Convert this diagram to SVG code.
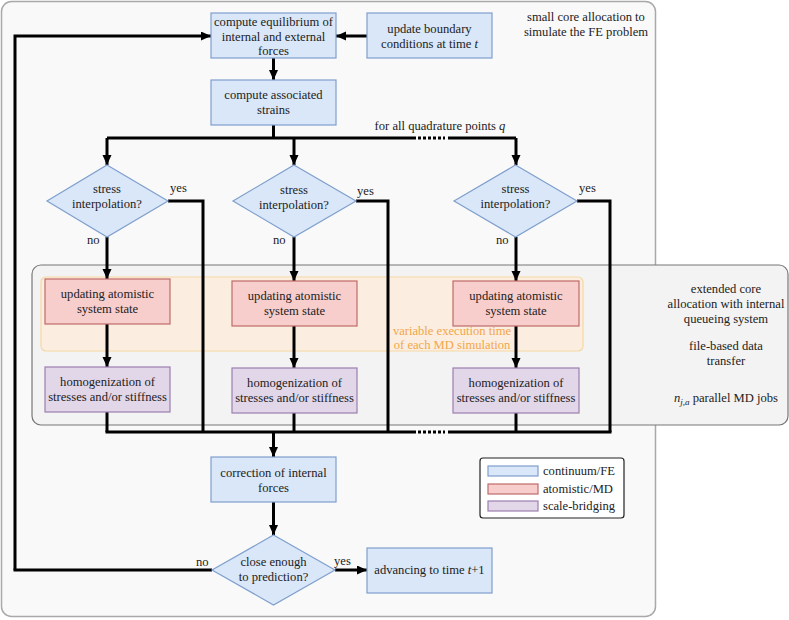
<svg xmlns="http://www.w3.org/2000/svg" width="789" height="620" viewBox="0 0 789 620">
<defs>
<marker id="ah" markerUnits="userSpaceOnUse" markerWidth="11" markerHeight="10" refX="10" refY="4.5" orient="auto">
<path d="M0,0 L10,4.5 L0,9 z" fill="#000"/>
</marker>
<style>
text{fill:#222;}
.c{text-anchor:middle;}
.fe{fill:#d9e7f9;stroke:#7f9fcc;stroke-width:1.2;}
.md{fill:#f8cecc;stroke:#bf6b68;stroke-width:1.2;}
.sb{fill:#e2d6e9;stroke:#9c7fb0;stroke-width:1.2;}
.ln{fill:none;stroke:#000;stroke-width:3;}
.ar{fill:none;stroke:#000;stroke-width:3;marker-end:url(#ah);}
.dt{fill:none;stroke:#000;stroke-width:3;stroke-dasharray:3,2;}
.or{fill:#f2a64a;}
</style>
</defs>
<rect width="789" height="620" fill="#fff"/>
<g font-family="Liberation Serif" font-size="12.6">
<g id="fe-region">
<rect x="1.5" y="1.5" width="654" height="615" rx="10" fill="#f9f9f9" stroke="#a9a9a9" stroke-width="1.5"/>
<text class="c" x="586" y="21">small core allocation to</text>
<text class="c" x="586" y="36">simulate the FE problem</text>
</g>
<g id="md-region">
<rect x="32" y="265" width="756" height="160" rx="9" fill="#f3f3f3" stroke="#777" stroke-width="1.2"/>
<text class="c" x="726" y="293">extended core</text>
<text class="c" x="726" y="308">allocation with internal</text>
<text class="c" x="726" y="323">queueing system</text>
<text class="c" x="726" y="350">file-based data</text>
<text class="c" x="726" y="365">transfer</text>
<text class="c" x="726" y="402"><tspan font-style="italic">n</tspan><tspan font-style="italic" font-size="9" dy="3">j,a</tspan><tspan dy="-3"> parallel MD jobs</tspan></text>
</g>
<g id="md-time-region">
<rect x="41" y="277" width="542" height="74" rx="5" fill="#fbeee0" stroke="#f5d7a3" stroke-width="1.2"/>
<text class="c or" x="452" y="335">variable execution time</text>
<text class="c or" x="452" y="348.5">of each MD simulation</text>
</g>
<g id="connectors">
<path class="ar" d="M15,570 L15,36 L211,36"/>
<path class="ar" d="M367,36 L336,36"/>
<path class="ar" d="M273.5,58 L273.5,80"/>
<path class="ln" d="M273.5,125 L273.5,138"/>
<path class="ln" d="M107,138 L416,138"/>
<path class="dt" d="M418,138 L445,138"/>
<path class="ln" d="M448,138 L516,138"/>
<path class="ar" d="M107,138 L107,165"/>
<path class="ar" d="M294,138 L294,165"/>
<path class="ar" d="M516,138 L516,165"/>
<path class="ar" d="M107,237 L107,279"/>
<path class="ar" d="M294,237 L294,281"/>
<path class="ar" d="M516,237 L516,281"/>
<path class="ar" d="M107,324 L107,367"/>
<path class="ar" d="M294,326 L294,368"/>
<path class="ar" d="M516,326 L516,368"/>
<path class="ln" d="M168,201 L203,201 L203,432"/>
<path class="ln" d="M356,201 L388,201 L388,432"/>
<path class="ln" d="M577,201 L610,201 L610,432"/>
<path class="ln" d="M107,412 L107,432"/>
<path class="ln" d="M294,413 L294,432"/>
<path class="ln" d="M516,413 L516,432"/>
<path class="ln" d="M105.5,432 L416,432"/>
<path class="dt" d="M418,432 L445,432"/>
<path class="ln" d="M448,432 L611.5,432"/>
<path class="ar" d="M273.5,432 L273.5,457"/>
<path class="ar" d="M273.5,502 L273.5,535"/>
<path class="ln" d="M212,570 L13.5,570"/>
<path class="ar" d="M335,570 L367,570"/>
</g>
<g id="n-equilibrium">
<rect class="fe" x="211" y="13" width="125" height="45"/>
<text class="c" x="273.5" y="26">compute equilibrium of</text>
<text class="c" x="273.5" y="40.5">internal and external</text>
<text class="c" x="273.5" y="55">forces</text>
</g>
<g id="n-boundary">
<rect class="fe" x="367" y="13" width="125" height="45"/>
<text class="c" x="429.5" y="33">update boundary</text>
<text class="c" x="429.5" y="48">conditions at time <tspan font-style="italic">t</tspan></text>
</g>
<g id="n-strains">
<rect class="fe" x="211" y="80" width="125" height="45"/>
<text class="c" x="273.5" y="99">compute associated</text>
<text class="c" x="273.5" y="114">strains</text>
</g>
<g id="l-quadrature">
<text class="c" x="440" y="130">for all quadrature points <tspan font-style="italic">q</tspan></text>
</g>
<g id="n-stress1">
<polygon class="fe" points="107,165 168,201 107,237 47,201"/>
<text class="c" x="107" y="193">stress</text>
<text class="c" x="107" y="208">interpolation?</text>
<text x="170" y="192">yes</text>
<text x="87" y="244">no</text>
</g>
<g id="n-stress2">
<polygon class="fe" points="294,165 356,201 294,237 233,201"/>
<text class="c" x="294" y="194">stress</text>
<text class="c" x="294" y="209">interpolation?</text>
<text x="357" y="195">yes</text>
<text x="273" y="244">no</text>
</g>
<g id="n-stress3">
<polygon class="fe" points="515.5,165 577,201 515.5,237 454,201"/>
<text class="c" x="515.5" y="193">stress</text>
<text class="c" x="515.5" y="208">interpolation?</text>
<text x="579" y="192">yes</text>
<text x="496" y="244">no</text>
</g>
<g id="n-md1">
<rect class="md" x="45" y="279" width="125" height="45"/>
<text class="c" x="107.5" y="298">updating atomistic</text>
<text class="c" x="107.5" y="313">system state</text>
</g>
<g id="n-md2">
<rect class="md" x="232" y="281" width="125" height="45"/>
<text class="c" x="294.5" y="300">updating atomistic</text>
<text class="c" x="294.5" y="315">system state</text>
</g>
<g id="n-md3">
<rect class="md" x="453" y="281" width="126" height="45"/>
<text class="c" x="516" y="300">updating atomistic</text>
<text class="c" x="516" y="315">system state</text>
</g>
<g id="n-hom1">
<rect class="sb" x="45" y="367" width="125" height="45"/>
<text class="c" x="107.5" y="386">homogenization of</text>
<text class="c" x="107.5" y="401">stresses and/or stiffness</text>
</g>
<g id="n-hom2">
<rect class="sb" x="232" y="368" width="125" height="45"/>
<text class="c" x="294.5" y="387">homogenization of</text>
<text class="c" x="294.5" y="402">stresses and/or stiffness</text>
</g>
<g id="n-hom3">
<rect class="sb" x="453" y="368" width="126" height="45"/>
<text class="c" x="516" y="387">homogenization of</text>
<text class="c" x="516" y="402">stresses and/or stiffness</text>
</g>
<g id="n-correction">
<rect class="fe" x="211" y="457" width="125" height="45"/>
<text class="c" x="273.5" y="477">correction of internal</text>
<text class="c" x="273.5" y="492">forces</text>
</g>
<g id="n-close">
<polygon class="fe" points="273.5,535 335,570 273.5,605 212,570"/>
<text class="c" x="273.5" y="566">close enough</text>
<text class="c" x="273.5" y="581">to prediction?</text>
<text x="196" y="566">no</text>
<text x="334" y="565">yes</text>
</g>
<g id="n-advance">
<rect class="fe" x="367" y="548" width="125" height="45"/>
<text class="c" x="429.5" y="574">advancing to time <tspan font-style="italic">t</tspan>+1</text>
</g>
<g id="legend">
<rect x="480" y="458" width="144" height="60" rx="3" fill="#fff" stroke="#222" stroke-width="1.2"/>
<rect class="fe" x="488" y="466" width="50" height="10"/>
<rect class="md" x="488" y="484" width="50" height="10"/>
<rect class="sb" x="488" y="501" width="50" height="10"/>
<text x="543" y="475">continuum/FE</text>
<text x="543" y="493">atomistic/MD</text>
<text x="543" y="510">scale-bridging</text>
</g>
</g>
</svg>
